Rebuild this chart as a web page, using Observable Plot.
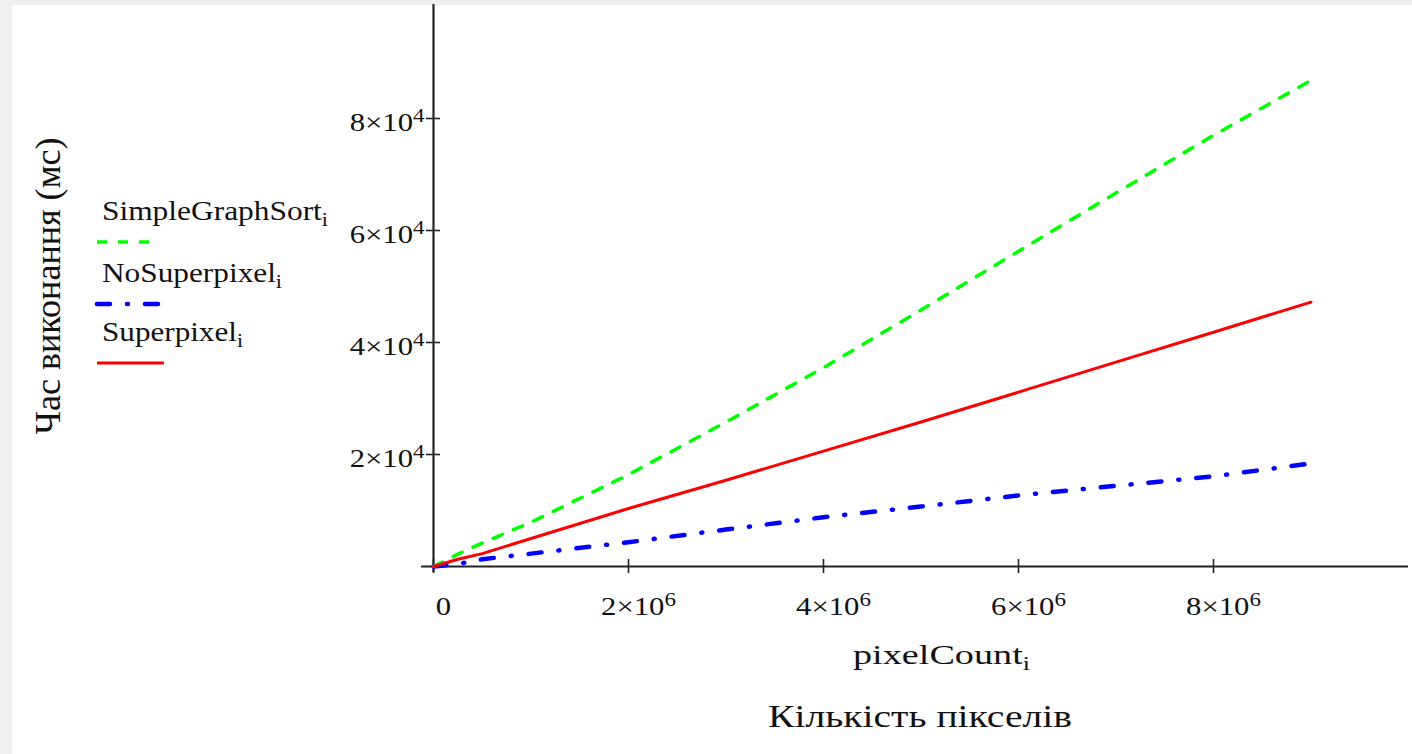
<!DOCTYPE html>
<html><head><meta charset="utf-8">
<script src="https://cdn.jsdelivr.net/npm/d3@7"></script>
<script src="https://cdn.jsdelivr.net/npm/@observablehq/plot@0.6"></script>
<style>
html,body{margin:0;padding:0;background:#f0f0f0;width:1412px;height:754px;overflow:hidden;}
#panel{position:absolute;left:12px;top:5px;width:1400px;height:749px;background:#fff;}
#chart{position:absolute;left:0;top:0;}
#overlay{position:absolute;left:0;top:0;pointer-events:none;}
text{font-family:"Liberation Serif","DejaVu Serif","Times New Roman",serif;fill:#111;}
</style></head>
<body>
<div id="panel"></div>
<div id="chart"></div>
<svg id="overlay" width="1412" height="754">
  <text text-anchor="middle" dominant-baseline="central" font-size="32" textLength="297" lengthAdjust="spacingAndGlyphs" transform="translate(48,286) rotate(-90) scale(1,1.12)">Час виконання (мс)</text>
  <text x="102" y="220" font-size="27" textLength="226" lengthAdjust="spacingAndGlyphs">SimpleGraphSort<tspan dy="6" font-size="19">i</tspan></text>
  <line x1="97" x2="160" y1="242" y2="242" stroke="#00ff00" stroke-width="3.5" stroke-dasharray="10,11"/>
  <text x="102" y="282" font-size="27" textLength="180" lengthAdjust="spacingAndGlyphs">NoSuperpixel<tspan dy="6" font-size="19">i</tspan></text>
  <line x1="97" x2="160" y1="304" y2="304" stroke="#0000ff" stroke-width="4.5" stroke-linecap="round" stroke-dasharray="13,17,1,17"/>
  <text x="102" y="341" font-size="27" textLength="141" lengthAdjust="spacingAndGlyphs">Superpixel<tspan dy="6" font-size="19">i</tspan></text>
  <line x1="97" x2="164" y1="363" y2="363" stroke="#ff0000" stroke-width="3"/>
  <text x="853" y="664" font-size="28" textLength="177" lengthAdjust="spacingAndGlyphs">pixelCount<tspan dy="6" font-size="19">i</tspan></text>
  <text x="768" y="727" font-size="31" textLength="304" lengthAdjust="spacingAndGlyphs">Кількість пікселів</text>
</svg>
<script>
// ---- data ----
const pixelCount      = [0, 250000, 500000, 1000000, 2000000, 3000000, 4000000, 5000000, 6000000, 7000000, 8000000, 9000000];
const simpleGraphSort = [0, 2200, 4200, 7900, 16400, 25800, 35500, 45800, 56300, 66700, 77000, 86800];
const noSuperpixel    = [0, 450, 1300, 2300, 4340, 6600, 8800, 10700, 12700, 14400, 16100, 18400];
const superpixel      = [0, 1300, 2300, 5000, 10360, 15400, 20600, 25800, 31130, 36500, 41840, 47200];
const xTicks = [0, 2e6, 4e6, 6e6, 8e6];
const xTickLabels = ["0", "2×10^6", "4×10^6", "6×10^6", "8×10^6"];
const yTicks = [2e4, 4e4, 6e4, 8e4];
const yTickLabels = ["2×10^4", "4×10^4", "6×10^4", "8×10^4"];

const SX = 1.18;
const toRows = (ys) => pixelCount.map((x, i) => ({x, y: ys[i]}));

const plot = Plot.plot({
  width: 1412, height: 754,
  marginLeft: 433, marginRight: 4, marginTop: 6, marginBottom: 188,
  style: {background: "transparent", fontFamily: "Liberation Serif, Times New Roman, serif", fontSize: "26px", color: "#111"},
  x: {domain: [0, 1e7], label: null},
  y: {domain: [0, 1e5], label: null},
  marks: [
    Plot.axisX(xTicks, {tickSize: 14, dy: -7, tickFormat: () => "", label: null, stroke: "#222", strokeWidth: 1.6}),
    Plot.axisX(xTicks, {tickSize: 0, tickPadding: 30, dx: 10, tickFormat: (d) => xTickLabels[xTicks.indexOf(d)], label: null, fill: "#111"}),
    Plot.axisY(yTicks, {tickSize: 14, dx: 7, tickFormat: () => "", label: null, stroke: "#222", strokeWidth: 1.6}),
    Plot.axisY(yTicks, {tickSize: 0, tickPadding: 9, dy: 4, tickFormat: (d) => yTickLabels[yTicks.indexOf(d)], label: null, fill: "#111"}),
    Plot.ruleY([0], {stroke: "#222", strokeWidth: 2.2, insetLeft: -12}),
    Plot.ruleX([0], {stroke: "#222", strokeWidth: 2.2, insetBottom: -6, insetTop: -2}),
    Plot.line(toRows(noSuperpixel), {x: "x", y: "y", stroke: "#0000ff", strokeWidth: 4.5, strokeLinecap: "round", strokeDasharray: "13,17,1,17"}),
    Plot.line(toRows(simpleGraphSort), {x: "x", y: "y", stroke: "#00ff00", strokeWidth: 3.5, strokeDasharray: "10,12"}),
    Plot.line(toRows(superpixel), {x: "x", y: "y", stroke: "#ff0000", strokeWidth: 3})
  ]
});
document.getElementById("chart").appendChild(plot);

// superscripts for tick labels
plot.querySelectorAll("text").forEach(t => {
  const s = t.textContent;
  if (s.includes("^")) {
    const [base, exp] = s.split("^");
    t.textContent = "";
    const ns = "http://www.w3.org/2000/svg";
    const a = document.createElementNS(ns, "tspan"); a.textContent = base;
    const b = document.createElementNS(ns, "tspan"); b.textContent = exp;
    b.setAttribute("dy", "-0.45em"); b.setAttribute("font-size", "75%");
    t.appendChild(a); t.appendChild(b);
  }
});

// horizontal stretch of tick-label glyphs, as in the reference rendering
plot.querySelectorAll("text").forEach(t => {
  const x = +t.getAttribute("x") || 0, y = +t.getAttribute("y") || 0;
  const tr = t.getAttribute("transform") || "";
  t.setAttribute("transform", `${tr} translate(${x},${y}) scale(${SX},1) translate(${-x},${-y})`);
});
</script>
</body></html>
